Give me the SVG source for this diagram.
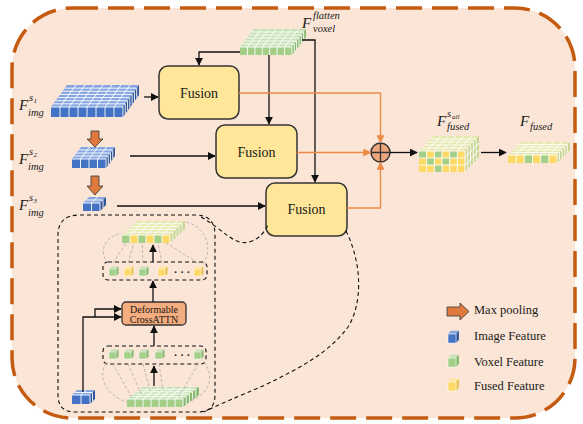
<svg xmlns="http://www.w3.org/2000/svg" xmlns:xlink="http://www.w3.org/1999/xlink" width="583" height="424" viewBox="0 0 583 424">
<defs>
<style>
.wl{stroke:#fff;stroke-width:0.9;fill:none;vector-effect:non-scaling-stroke}
.blF{fill:#4472c4}.blT{fill:#86a6df}.blS{fill:#2f5597}
.grF{fill:#a3cf88}.grT{fill:#c5e0b4}.grS{fill:#86b96e}
.yeF{fill:#ffd966}.mxT{fill:#e6e7ad}.mxS{fill:#c8d592}
.fus{fill:#ffe699;stroke:#333;stroke-width:1.5}
.ft{font-family:"Liberation Serif","DejaVu Serif","Times New Roman",serif;fill:#1a1a1a}
.mt{font-family:"Liberation Serif","DejaVu Serif","Times New Roman",serif;font-style:italic;fill:#1a1a1a}
.ar{fill:none;stroke:#111;stroke-width:1.3}
.or{fill:none;stroke:#ed8a45;stroke-width:1.4}
.dsh{fill:none;stroke:#111;stroke-width:1.1;stroke-dasharray:4 3}
.gry{fill:none;stroke:#b9b0a8;stroke-width:0.9;stroke-dasharray:3 2}
.pool{fill:#df7a3c;stroke:#444;stroke-width:0.9}
</style>
<marker id="ah" viewBox="0 0 10 10" refX="9" refY="5" markerWidth="8" markerHeight="8" markerUnits="userSpaceOnUse" orient="auto"><path d="M0,0 L10,5 L0,10 z" fill="#111"/></marker>
<marker id="ao" viewBox="0 0 10 10" refX="9" refY="5" markerWidth="8" markerHeight="8" markerUnits="userSpaceOnUse" orient="auto"><path d="M0,0 L10,5 L0,10 z" fill="#ed8a45"/></marker>
<g id="cg"><polygon points="0,0 7,0 9.5,-2.5 2.5,-2.5" class="grT"/><polygon points="7,0 9.5,-2.5 9.5,4.5 7,7" class="grS"/><rect width="7" height="7" class="grF" stroke="#fff" stroke-width="0.5"/></g>
<g id="cy"><polygon points="0,0 7,0 9.5,-2.5 2.5,-2.5" fill="#ffe699"/><polygon points="7,0 9.5,-2.5 9.5,4.5 7,7" fill="#e6c24f"/><rect width="7" height="7" class="yeF" stroke="#fff" stroke-width="0.5"/></g>
<g id="cb"><polygon points="0,0 7,0 9.5,-2.5 2.5,-2.5" class="blT"/><polygon points="7,0 9.5,-2.5 9.5,4.5 7,7" class="blS"/><rect width="7" height="7" class="blF" stroke="#fff" stroke-width="0.5"/></g>
</defs>

<rect x="0" y="0" width="583" height="424" fill="#fff"/>
<rect id="frame" x="12" y="8" width="563" height="410" rx="60" fill="#fbe5d6" stroke="#c55a11" stroke-width="3.5" stroke-dasharray="26 10"/>

<!-- image feature s1 -->
<g id="img-s1">
<g transform="matrix(1,0,16,-22,51,107)"><rect width="72" height="1" class="blT"/><path class="wl" d="M0 .1429H72M0 .2857H72M0 .4286H72M0 .5714H72M0 .7143H72M0 .8571H72M9 0V1M18 0V1M27 0V1M36 0V1M45 0V1M54 0V1M63 0V1"/></g>
<rect x="51" y="107" width="72" height="10" class="blF"/><path class="wl" d="M60 107V117M69 107V117M78 107V117M87 107V117M96 107V117M105 107V117M114 107V117M51 107H123"/>
<g transform="matrix(16,-22,0,1,123,107)"><rect width="1" height="10" class="blS"/><path class="wl" d="M.1429 0V10M.2857 0V10M.4286 0V10M.5714 0V10M.7143 0V10M.8571 0V10M0 0V10"/></g>
</g>
<!-- image feature s2 -->
<g id="img-s2">
<g transform="matrix(1,0,9,-12,72,159)"><rect width="34" height="1" class="blT"/><path class="wl" d="M0 .25H34M0 .5H34M0 .75H34M8.5 0V1M17 0V1M25.5 0V1"/></g>
<rect x="72" y="159" width="34" height="9" class="blF"/><path class="wl" d="M80.5 159V168M89 159V168M97.5 159V168M72 159H106"/>
<g transform="matrix(9,-12,0,1,106,159)"><rect width="1" height="9" class="blS"/><path class="wl" d="M.25 0V9M.5 0V9M.75 0V9M0 0V9"/></g>
</g>
<!-- image feature s3 -->
<g id="img-s3">
<g transform="matrix(1,0,6,-6,83,203)"><rect width="17" height="1" class="blT"/><path class="wl" d="M0 .5H17M8.5 0V1"/></g>
<rect x="83" y="203" width="17" height="8" class="blF"/><path class="wl" d="M91.5 203V211M83 203H100"/>
<g transform="matrix(6,-6,0,1,100,203)"><rect width="1" height="8" class="blS"/><path class="wl" d="M.5 0V8M0 0V8"/></g>
</g>

<!-- labels -->
<g id="lbl-s1"><text class="mt" x="19" y="110" font-size="15">F</text><text class="mt" x="28" y="116" font-size="10.5">img</text><text class="mt" x="29" y="101" font-size="10.5">s</text><text class="mt" x="33.5" y="103" font-size="7">1</text></g>
<g id="lbl-s2"><text class="mt" x="19" y="164" font-size="15">F</text><text class="mt" x="28" y="170" font-size="10.5">img</text><text class="mt" x="29" y="155" font-size="10.5">s</text><text class="mt" x="33.5" y="157" font-size="7">2</text></g>
<g id="lbl-s3"><text class="mt" x="19" y="210" font-size="15">F</text><text class="mt" x="28" y="216" font-size="10.5">img</text><text class="mt" x="29" y="201" font-size="10.5">s</text><text class="mt" x="33.5" y="203" font-size="7">3</text></g>

<!-- max pooling arrows -->
<g id="pool1"><path class="pool" d="M91 131H99V139H103L95 147L87 139H91Z"/></g>
<g id="pool2"><path class="pool" d="M91 176H99V186H103L95 195L87 186H91Z"/></g>

<!-- voxel flatten -->
<g id="voxel">
<g transform="matrix(1,0,14,-18,240,47)"><rect width="52" height="1" class="grT"/><path class="wl" d="M0 .1667H52M0 .3333H52M0 .5H52M0 .6667H52M0 .8333H52M7.43 0V1M14.86 0V1M22.29 0V1M29.71 0V1M37.14 0V1M44.57 0V1"/></g>
<rect x="240" y="47" width="52" height="8" class="grF"/><path class="wl" d="M247.4 47V55M254.9 47V55M262.3 47V55M269.7 47V55M277.1 47V55M284.6 47V55M240 47H292"/>
<g transform="matrix(14,-18,0,1,292,47)"><rect width="1" height="8" class="grS"/><path class="wl" d="M.1667 0V8M.3333 0V8M.5 0V8M.6667 0V8M.8333 0V8M0 0V8"/></g>
<text class="mt" x="302" y="28" font-size="15">F</text><text class="mt" x="313" y="19" font-size="10.5">flatten</text><text class="mt" x="313" y="32" font-size="10.5">voxel</text>
</g>

<!-- fusion nodes -->
<g id="fusion1"><rect x="159" y="66" width="80" height="53" rx="9" class="fus"/><text class="ft" x="199" y="97.5" font-size="14" text-anchor="middle">Fusion</text></g>
<g id="fusion2"><rect x="216" y="125" width="81" height="53" rx="9" class="fus"/><text class="ft" x="256.5" y="156.5" font-size="14" text-anchor="middle">Fusion</text></g>
<g id="fusion3"><rect x="266" y="183" width="81" height="53" rx="9" class="fus"/><text class="ft" x="306.5" y="214" font-size="14" text-anchor="middle">Fusion</text></g>

<!-- sum -->
<g id="sum"><circle cx="380.5" cy="152.5" r="9.5" fill="#eda57e" stroke="#333" stroke-width="1.5"/><path d="M371 152.5H390M380.5 143V162" stroke="#333" stroke-width="1.3"/></g>

<!-- fused all -->
<g id="fused-all">
<g transform="matrix(1,0,14,-15,419,151)"><rect width="46" height="1" class="mxT"/><path class="wl" d="M0 .2H46M0 .4H46M0 .6H46M0 .8H46M7.667 0V1M15.333 0V1M23 0V1M30.667 0V1M38.333 0V1"/></g>
<rect x="419" y="151" width="7.667" height="7" class="grF"/><rect x="426.667" y="151" width="7.667" height="7" class="yeF"/><rect x="434.333" y="151" width="7.667" height="7" class="grF"/><rect x="442" y="151" width="7.667" height="7" class="yeF"/><rect x="449.667" y="151" width="7.667" height="7" class="grF"/><rect x="457.333" y="151" width="7.667" height="7" class="yeF"/>
<rect x="419" y="158" width="7.667" height="7" class="yeF"/><rect x="426.667" y="158" width="7.667" height="7" class="grF"/><rect x="434.333" y="158" width="7.667" height="7" class="yeF"/><rect x="442" y="158" width="7.667" height="7" class="grF"/><rect x="449.667" y="158" width="7.667" height="7" class="yeF"/><rect x="457.333" y="158" width="7.667" height="7" class="yeF"/>
<rect x="419" y="165" width="7.667" height="7" class="yeF"/><rect x="426.667" y="165" width="7.667" height="7" class="yeF"/><rect x="434.333" y="165" width="7.667" height="7" class="grF"/><rect x="442" y="165" width="7.667" height="7" class="yeF"/><rect x="449.667" y="165" width="7.667" height="7" class="yeF"/><rect x="457.333" y="165" width="7.667" height="7" class="yeF"/>
<path class="wl" d="M426.667 151V172M434.333 151V172M442 151V172M449.667 151V172M457.333 151V172M419 151H465M419 158H465M419 165H465"/>
<g transform="matrix(14,-15,0,1,465,151)"><rect width="1" height="21" class="mxS"/><path class="wl" d="M.2 0V21M.4 0V21M.6 0V21M.8 0V21M0 7H1M0 14H1M0 0V21"/></g>
<text class="mt" x="437" y="126" font-size="15">F</text><text class="mt" x="447" y="130" font-size="10.5">fused</text><text class="mt" x="447" y="117" font-size="10.5">s</text><text class="mt" x="452" y="119" font-size="7">all</text>
</g>

<!-- fused -->
<g id="fused">
<g transform="matrix(1,0,13,-13,508,155)"><rect width="49" height="1" class="mxT"/><path class="wl" d="M0 .2H49M0 .4H49M0 .6H49M0 .8H49M8.167 0V1M16.333 0V1M24.5 0V1M32.667 0V1M40.833 0V1"/></g>
<rect x="508" y="155" width="8.167" height="8" class="yeF"/><rect x="516.167" y="155" width="8.167" height="8" class="yeF"/><rect x="524.333" y="155" width="8.167" height="8" class="grF"/><rect x="532.5" y="155" width="8.167" height="8" class="yeF"/><rect x="540.667" y="155" width="8.167" height="8" class="grF"/><rect x="548.833" y="155" width="8.167" height="8" class="yeF"/>
<path class="wl" d="M516.167 155V163M524.333 155V163M532.5 155V163M540.667 155V163M548.833 155V163M508 155H557"/>
<g transform="matrix(13,-13,0,1,557,155)"><rect width="1" height="8" class="mxS"/><path class="wl" d="M.2 0V8M.4 0V8M.6 0V8M.8 0V8M0 0V8"/></g>
<text class="mt" x="520" y="126" font-size="15">F</text><text class="mt" x="530" y="130" font-size="10.5">fused</text>
</g>

<!-- detail inner view -->
<g id="detail">
<path class="dsh" d="M80 215H195Q215 215 215 235V395Q215 412 198 412H75Q58 412 58 395V235Q58 215 80 215Z"/>
<g id="detail-fused">
<g transform="matrix(1,0,15,-14,122,235)"><rect width="48" height="1" class="mxT"/><path class="wl" d="M0 .2H48M0 .4H48M0 .6H48M0 .8H48M8 0V1M16 0V1M24 0V1M32 0V1M40 0V1"/></g>
<rect x="122" y="235" width="8" height="8" class="grF"/><rect x="130" y="235" width="8" height="8" class="yeF"/><rect x="138" y="235" width="8" height="8" class="grF"/><rect x="146" y="235" width="8" height="8" class="yeF"/><rect x="154" y="235" width="8" height="8" class="grF"/><rect x="162" y="235" width="8" height="8" class="yeF"/>
<path class="wl" d="M130 235V243M138 235V243M146 235V243M154 235V243M162 235V243M122 235H170"/>
<g transform="matrix(15,-14,0,1,170,235)"><rect width="1" height="8" class="mxS"/><path class="wl" d="M.2 0V8M.4 0V8M.6 0V8M.8 0V8M0 0V8"/></g>
</g>
<g id="tokens-out">
<rect x="103" y="262" width="104" height="18" rx="5" class="dsh" stroke="#2b2b40"/>
<use href="#cg" x="109" y="269"/><use href="#cy" x="124" y="269"/><use href="#cg" x="139" y="269"/><use href="#cy" x="158" y="269"/><use href="#cy" x="194" y="269"/>
<text class="ft" x="182" y="276" font-size="11" text-anchor="middle" font-weight="bold">· · ·</text>
</g>
<g id="deform"><rect x="122" y="302" width="64" height="23" rx="4" fill="#f4ad7e" stroke="#333" stroke-width="1.3"/><text class="ft" x="154" y="313" font-size="10" text-anchor="middle">Deformable</text><text class="ft" x="154" y="323" font-size="10" text-anchor="middle">CrossATTN</text></g>
<g id="tokens-in">
<rect x="103" y="346" width="103" height="18" rx="5" class="dsh" stroke="#2b2b40"/>
<use href="#cg" x="109" y="352"/><use href="#cg" x="124" y="352"/><use href="#cg" x="139" y="352"/><use href="#cg" x="155" y="352"/><use href="#cg" x="194" y="352"/>
<text class="ft" x="182" y="359" font-size="11" text-anchor="middle" font-weight="bold">· · ·</text>
</g>
<g id="detail-voxel">
<g transform="matrix(1,0,16,-12,127,399)"><rect width="56" height="1" class="grT"/><path class="wl" d="M0 .2H56M0 .4H56M0 .6H56M0 .8H56M8 0V1M16 0V1M24 0V1M32 0V1M40 0V1M48 0V1"/></g>
<rect x="127" y="399" width="56" height="8" class="grF"/><path class="wl" d="M135 399V407M143 399V407M151 399V407M159 399V407M167 399V407M175 399V407M127 399H183"/>
<g transform="matrix(16,-12,0,1,183,399)"><rect width="1" height="8" class="grS"/><path class="wl" d="M.2 0V8M.4 0V8M.6 0V8M.8 0V8M0 0V8"/></g>
</g>
<g id="detail-img">
<g transform="matrix(1,0,5,-5,72,395)"><rect width="18" height="1" class="blT"/><path class="wl" d="M0 .5H18M9 0V1"/></g>
<rect x="72" y="395" width="18" height="9" class="blF"/><path class="wl" d="M81 395V404M72 395H90"/>
<g transform="matrix(5,-5,0,1,90,395)"><rect width="1" height="9" class="blS"/><path class="wl" d="M.5 0V9M0 0V9"/></g>
</g>
<g id="gray-links">
<path class="gry" d="M108 263C98 252 104 238 121 233"/>
<path class="gry" d="M113 263L126 243"/>
<path class="gry" d="M128 263L134 243"/>
<path class="gry" d="M143 263L142 243"/>
<path class="gry" d="M162 263L158 243"/>
<path class="gry" d="M198 263L166 243"/>
<path class="gry" d="M203 264C214 248 205 226 186 222"/>
<path class="gry" d="M106 363C96 380 110 397 127 402"/>
<path class="gry" d="M113 364L132 398"/>
<path class="gry" d="M128 364L142 396"/>
<path class="gry" d="M143 364L150 390"/>
<path class="gry" d="M159 364L163 390"/>
<path class="gry" d="M198 364L178 398"/>
<path class="gry" d="M204 362C216 378 208 395 190 401"/>
</g>
</g>

<!-- connectors -->
<g id="connectors">
<path class="ar" d="M240 52H199V65" marker-end="url(#ah)"/>
<path class="ar" d="M269 55V124" marker-end="url(#ah)"/>
<path class="ar" d="M302 40H315V182" marker-end="url(#ah)"/>
<path class="ar" d="M144 97H158" marker-end="url(#ah)"/>
<path class="ar" d="M130 156H215" marker-end="url(#ah)"/>
<path class="ar" d="M117 206H265" marker-end="url(#ah)"/>
<path class="or" d="M239 93H380.5V142.5" marker-end="url(#ao)"/>
<path class="or" d="M297 152.5H370.5" marker-end="url(#ao)"/>
<path class="or" d="M347 208H380.5V162.5" marker-end="url(#ao)"/>
<path class="ar" d="M390 152.5H417" marker-end="url(#ah)"/>
<path class="ar" d="M481 152.5H506" marker-end="url(#ah)"/>
<path class="ar" d="M153 262V245" marker-end="url(#ah)"/>
<path class="ar" d="M153 302V281" marker-end="url(#ah)"/>
<path class="ar" d="M154 346V326" marker-end="url(#ah)"/>
<path class="ar" d="M154 386V366" marker-end="url(#ah)"/>
<path class="ar" d="M83 392V317H121" marker-end="url(#ah)"/>
<path class="ar" d="M95 317V309H121" marker-end="url(#ah)"/>
<path class="dsh" d="M201 217C224 230 234 246 249 242C260 239 265 231 268 225"/>
<path class="dsh" d="M346 231C363 265 362 305 348 327C330 352 300 368 265 385C240 396 215 406 204 412"/>
</g>

<!-- legend -->
<g id="legend">
<path class="pool" d="M447 307H460V303L469 311.5L460 320V316H447Z"/>
<text class="ft" x="474" y="314" font-size="12.5">Max pooling</text>
<use href="#cb" transform="translate(448,334) scale(1.15,1.3)"/>
<text class="ft" x="474" y="340" font-size="12.5">Image Feature</text>
<use href="#cg" transform="translate(448,358) scale(1.15,1.3)"/>
<text class="ft" x="474" y="366" font-size="12.5">Voxel Feature</text>
<use href="#cy" transform="translate(448,382) scale(1.15,1.3)"/>
<text class="ft" x="474" y="390" font-size="12.5">Fused Feature</text>
</g>
</svg>
